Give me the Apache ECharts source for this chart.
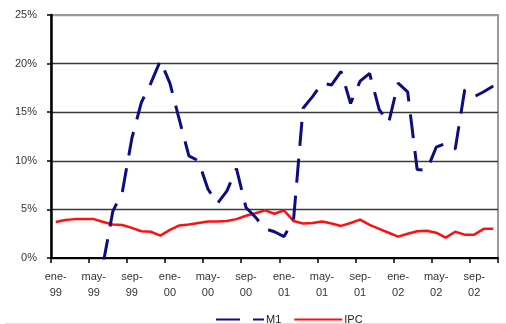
<!DOCTYPE html>
<html>
<head>
<meta charset="utf-8">
<script src="https://cdn.jsdelivr.net/npm/echarts@6/dist/echarts.min.js"></script>
<style>
  html, body { margin: 0; padding: 0; background: #fff; }
  #chart { width: 506px; height: 324px; }
</style>
</head>
<body>
<div id="chart"></div>
<script>
// Meses (ene-99 .. nov-02)
const meses = ['ene', 'feb', 'mar', 'abr', 'may', 'jun', 'jul', 'ago', 'sep', 'oct', 'nov', 'dic'];
const anios = ['99', '00', '01', '02'];
const categorias = anios.flatMap(a => meses.map(m => m + '-' + a)).slice(0, 47);

// Variación anual de M1 (%)
const m1 = [null, null, null, null, null, -0.5, 4.8, 6.8, 12.3, 16.0, 18.0, 20.3,
            18.0, 14.2, 10.5, 10.0, 7.1, 5.6, 6.9, 9.2, 5.2, 4.2, 3.0, 2.7,
            2.2, 3.9, 15.4, 16.6, 18.0, 17.8, 19.2, 15.9, 18.2, 19.0, 15.3, 13.9,
            18.0, 17.1, 9.1, 9.0, 11.4, 11.8, 11.2, 17.3, 16.6, 17.1, 17.7];

// Inflación anual IPC (%)
const ipc = [3.7, 3.9, 4.0, 4.0, 4.0, 3.7, 3.45, 3.4, 3.1, 2.75, 2.7, 2.3,
             2.9, 3.35, 3.45, 3.6, 3.75, 3.75, 3.8, 4.0, 4.35, 4.6, 4.9, 4.55,
             4.9, 3.8, 3.55, 3.6, 3.75, 3.55, 3.3, 3.6, 3.95, 3.4, 3.0, 2.6,
             2.2, 2.5, 2.75, 2.8, 2.6, 2.1, 2.7, 2.4, 2.4, 3.0, 3.0];

const ejeY = { min: 0, max: 25, interval: 5 };

const chart = echarts.init(document.getElementById('chart'), null, { renderer: 'canvas' });
const fuente = 'Liberation Sans, Arial, sans-serif';

chart.setOption({
  animation: false,
  backgroundColor: '#fff',
  grid: {
    left: 51, right: 8, top: 15, bottom: 66,
    show: true, borderColor: '#9a9a9a', borderWidth: 2, backgroundColor: 'transparent'
  },
  legend: {
    left: 210, top: 309,
    itemWidth: 48, itemHeight: 12, itemGap: 12,
    itemStyle: { opacity: 0 },
    textStyle: { fontFamily: fuente, fontSize: 11, color: '#222', padding: [0, 0, 0, -3] },
    data: ['M1', 'IPC']
  },
  xAxis: {
    type: 'category',
    data: categorias,
    boundaryGap: true,
    axisLine: { lineStyle: { color: '#000', width: 2 } },
    axisTick: { show: true, interval: 3, length: 5, inside: false, lineStyle: { color: '#000', width: 1.5 } },
    axisLabel: {
      interval: 3, margin: 11, fontFamily: fuente, fontSize: 11, color: '#333', lineHeight: 16,
      formatter: v => v.replace('-', '-\n')
    },
    splitLine: { show: false }
  },
  yAxis: {
    type: 'value',
    min: ejeY.min, max: ejeY.max, interval: ejeY.interval,
    axisLine: { show: true, lineStyle: { color: '#000', width: 2.5 } },
    axisTick: { show: true, length: 4, lineStyle: { color: '#000', width: 1.5 } },
    axisLabel: { margin: 14, fontFamily: fuente, fontSize: 11, color: '#333', formatter: '{value}%' },
    splitLine: {
      show: true,
      lineStyle: { color: ['#3a3a3a', '#3a3a3a', '#3a3a3a', '#3a3a3a', '#3a3a3a', '#9a9a9a'], width: 1.3 }
    }
  },
  series: [
    {
      name: 'M1', type: 'line', data: m1, symbol: 'none', clip: true,
      color: '#0c0c84',
      lineStyle: { color: '#0c0c84', width: 3, type: [24, 13] },
      z: 3
    },
    {
      name: 'IPC', type: 'line', data: ipc, symbol: 'none', clip: true,
      color: '#ff1010',
      lineStyle: { color: '#ff1010', width: 2.5 },
      z: 2
    }
  ],
  graphic: [
    { type: 'line', shape: { x1: 5, y1: 323.5, x2: 506, y2: 323.5 }, style: { stroke: '#dedede', lineWidth: 1 } }
  ]
});
</script>
</body>
</html>
